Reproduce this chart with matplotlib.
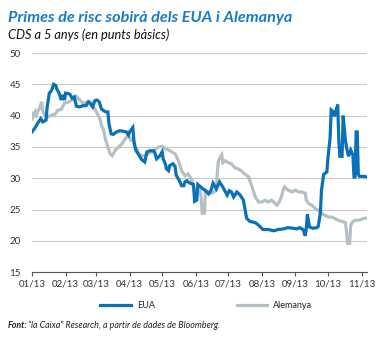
import numpy as np
import matplotlib
matplotlib.use("Agg")
import matplotlib.pyplot as plt

# CDS 5 anys, punts bàsics: (dies des de l'1 de gener de 2013, valor)
eua_points = [
    (0, 37.4), (3, 38.1), (6, 39.0), (8, 39.5), (10, 39.0), (13, 39.3), (14, 41.4), (16, 43.6),
    (18, 44.0), (20, 45.0), (22, 44.8), (23, 44.2), (25, 43.6), (27, 42.5), (28, 43.3), (30, 42.5),
    (31, 43.6), (34, 43.5), (35, 43.4), (37, 42.8), (39, 43.0), (41, 41.5), (44, 41.4), (47, 41.6),
    (50, 41.6), (52, 42.2), (54, 41.9), (56, 41.4), (58, 42.4), (60, 42.5), (62, 42.2), (64, 41.1),
    (66, 40.8), (68, 40.6), (70, 40.6), (71, 38.7), (73, 37.1), (75, 37.0), (78, 37.4), (81, 37.6),
    (84, 37.5), (87, 37.4), (89, 36.9), (90, 37.4), (93, 38.1), (94, 36.0), (95, 35.0), (96, 34.4),
    (98, 33.9), (101, 33.0), (104, 32.6), (106, 34.2), (109, 34.4), (112, 34.4), (113, 34.2),
    (115, 33.1), (118, 33.6), (120, 34.2), (121, 33.1), (123, 32.3), (124, 31.5), (126, 31.2),
    (127, 32.0), (130, 32.3), (132, 31.9), (133, 30.5), (134, 30.2), (136, 29.6), (138, 28.8),
    (140, 28.8), (141, 29.4), (143, 29.6), (144, 29.4), (146, 29.2), (149, 29.0), (150, 26.3),
    (152, 26.5), (153, 29.0), (157, 28.4), (160, 28.0), (163, 27.5), (165, 28.0), (167, 29.2),
    (170, 28.3), (173, 29.4), (176, 28.6), (180, 27.3), (182, 28.0), (184, 27.8), (186, 27.0),
    (189, 27.8), (192, 27.3), (195, 26.5), (196, 25.5), (198, 23.6), (201, 23.1), (206, 22.9),
    (209, 22.5), (210, 22.3), (213, 21.8), (218, 21.8), (223, 21.6), (227, 21.8), (232, 21.9),
    (236, 22.1), (241, 22.0), (244, 21.9), (247, 22.1), (250, 21.8), (252, 20.8), (253, 22.0),
    (254, 24.2), (256, 22.2), (259, 22.0), (263, 22.1), (264, 22.3), (266, 24.4), (267, 28.0),
    (269, 30.6), (272, 31.0), (273, 33.3), (275, 36.5), (276, 40.9), (278, 40.6), (279, 39.9),
    (282, 41.8), (283, 36.0), (284, 33.5), (286, 33.5), (287, 40.0), (289, 36.2), (290, 35.0),
    (292, 33.5), (294, 34.5), (296, 33.7), (297, 30.2), (298, 30.2), (299, 37.4), (300, 37.4),
    (301, 30.6), (302, 30.3), (306, 30.3), (309, 30.2),
]

alemanya_points = [
    (0, 40.4), (1, 39.8), (3, 40.6), (4, 40.1), (6, 40.9), (7, 41.2), (9, 42.2), (10, 40.6),
    (12, 40.1), (15, 39.8), (18, 40.1), (21, 40.2), (24, 40.9), (27, 41.0), (30, 42.0), (34, 42.2),
    (37, 42.5), (40, 43.0), (41, 43.1), (44, 42.5), (47, 42.0), (50, 42.1), (54, 42.2), (55, 41.6),
    (58, 41.1), (60, 40.4), (63, 39.3), (64, 38.5), (66, 37.7), (68, 36.1), (70, 35.0), (72, 33.9),
    (74, 33.6), (77, 34.5), (80, 35.0), (83, 35.5), (86, 36.3), (89, 36.9), (91, 36.1), (93, 36.3),
    (95, 35.0), (97, 34.7), (98, 33.9), (101, 33.6), (104, 33.6), (107, 33.9), (110, 34.2),
    (113, 34.5), (117, 35.0), (120, 35.1), (123, 34.7), (126, 34.5), (129, 34.2), (132, 33.9),
    (135, 32.8), (138, 31.2), (141, 30.4), (144, 30.7), (147, 29.9), (149, 28.6), (150, 27.6),
    (153, 27.8), (155, 28.1), (156, 27.0), (157, 24.4), (159, 24.4), (160, 28.1), (163, 27.8),
    (166, 27.6), (168, 27.8), (170, 28.1), (171, 31.0), (172, 32.8), (175, 33.7), (176, 32.5),
    (178, 32.8), (181, 32.5), (184, 32.3), (187, 31.7), (190, 31.5), (193, 31.2), (196, 30.7),
    (200, 30.2), (201, 29.6), (203, 28.6), (206, 27.0), (209, 26.2), (212, 26.2), (215, 26.5),
    (218, 26.2), (221, 26.5), (224, 26.0), (226, 25.7), (228, 26.2), (230, 27.0), (232, 28.3),
    (233, 28.6), (236, 28.1), (240, 27.8), (243, 28.1), (246, 27.8), (249, 27.8), (252, 27.6),
    (253, 26.5), (255, 26.0), (258, 25.7), (261, 25.2), (264, 24.9), (267, 24.4), (270, 24.1),
    (273, 23.8), (276, 23.8), (279, 23.6), (282, 23.3), (286, 23.1), (289, 22.9), (290, 21.7),
    (291, 19.6), (293, 19.6), (294, 22.5), (296, 23.1), (299, 23.3), (302, 23.3), (306, 23.6),
    (309, 23.6),
]

month_labels = ['01/13', '02/13', '03/13', '04/13', '05/13', '06/13',
                '07/13', '08/13', '09/13', '10/13', '11/13']

BLUE = '#0a70b8'
GREY = '#b5c0c5'

start = np.datetime64('2013-01-01')


def to_series(points):
    days, vals = zip(*points)
    return start + np.array(days).astype('timedelta64[D]'), np.array(vals)


eua_dates, eua = to_series(eua_points)
ale_dates, ale = to_series(alemanya_points)
month_ticks = [np.datetime64('2013-%02d-01' % m) for m in range(1, 12)]

plt.rcParams['font.family'] = ['Lato', 'DejaVu Sans']

fig = plt.figure(figsize=(3.9, 3.38), dpi=100)
ax = fig.add_axes([0.082, 0.195, 0.859, 0.648])

ax.plot(ale_dates, ale, color=GREY, lw=2.3, solid_joinstyle='miter', zorder=3)
ax.plot(eua_dates, eua, color=BLUE, lw=2.3, solid_joinstyle='miter', zorder=4)

ax.set_ylim(15, 50)
ax.set_yticks(range(15, 51, 5))
ax.set_xlim(start, start + np.timedelta64(309, 'D'))
ax.set_xticks(month_ticks)
ax.set_xticklabels(month_labels)

ax.grid(axis='y', color='#c8c8c8', lw=0.8)
ax.set_axisbelow(True)
for s in ['top', 'right', 'left']:
    ax.spines[s].set_visible(False)
ax.spines['bottom'].set_color('#555555')
ax.spines['bottom'].set_linewidth(0.8)
ax.tick_params(axis='y', length=0, labelsize=7, colors='#333333', pad=8)
ax.tick_params(axis='x', length=3, width=0.8, color='#555555', labelsize=7,
               labelcolor='#333333', pad=2)

fig.text(0.02, 0.968, 'Primes de risc sobirà dels EUA i Alemanya', color='#1a7cc4',
         fontsize=11.7, fontweight='bold', style='italic', va='top')
fig.text(0.02, 0.915, 'CDS a 5 anys (en punts bàsics)', color='#111111',
         fontsize=9.2, style='italic', va='top')

# llegenda
fig.add_artist(plt.Line2D([0.257, 0.335], [0.097, 0.097], color=BLUE, lw=2.3,
                          transform=fig.transFigure))
fig.text(0.352, 0.097, 'EUA', fontsize=6.5, va='center', color='#222222')
fig.add_artist(plt.Line2D([0.607, 0.685], [0.097, 0.097], color=GREY, lw=2.3,
                          transform=fig.transFigure))
fig.text(0.70, 0.097, 'Alemanya', fontsize=6.5, va='center', color='#222222')

fig.text(0.02, 0.038, 'Font:', fontsize=6.4, fontweight='bold', style='italic',
         va='center', color='#222222')
fig.text(0.073, 0.038, '\u201cla Caixa\u201d Research, a partir de dades de Bloomberg.',
         fontsize=6.4, style='italic', va='center', color='#222222')

fig.savefig('out.png', dpi=100)
